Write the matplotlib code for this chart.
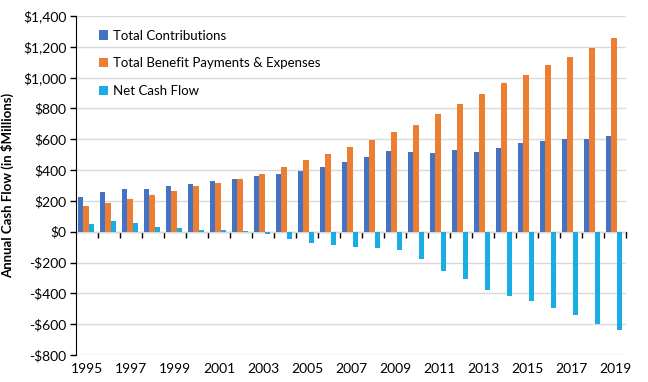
import matplotlib as mpl
from matplotlib import pyplot as plt
from matplotlib.ticker import FuncFormatter

mpl.use("agg")

mpl.rcParams["font.family"] = ["Lato", "DejaVu Sans"]
mpl.rcParams["font.size"] = 9.5

years = list(range(1995, 2020))
contributions = [225, 257, 277, 277, 296, 309, 329, 342, 361, 374, 393, 419, 450,
                 484, 523, 517, 510, 530, 517, 543, 573, 586, 599, 599, 620]
payments = [169, 188, 214, 240, 266, 296, 316, 342, 374, 419, 465, 504, 549,
            595, 644, 692, 767, 832, 891, 962, 1020, 1079, 1135, 1193, 1258]
net_flow = [52, 71, 58, 32, 26, 13, 9, 3, -15, -47, -75, -84, -100,
            -106, -119, -178, -258, -308, -377, -416, -449, -494, -540, -598, -641]

series = [
    ("Total Contributions", contributions, "#4472C4"),
    ("Total Benefit Payments & Expenses", payments, "#ED7D31"),
    ("Net Cash Flow", net_flow, "#1AADE4"),
]

fig = plt.figure(figsize=(6.48, 3.82), dpi=100)
ax = fig.add_axes([76 / 648, 27 / 382, 550 / 648, 339 / 382])

x = list(range(len(years)))
width = 0.25
for i, (label, values, color) in enumerate(series):
    ax.bar([xi + (i - 1) * width - 0.04 for xi in x], values, width=width,
           color=color, label=label, zorder=3)

ymin, ymax = -800, 1400
ax.set_ylim(ymin, ymax)
ax.set_xlim(-0.5, len(years) - 0.5)
ax.set_yticks(range(ymin, ymax + 1, 200))
ax.yaxis.set_major_formatter(
    FuncFormatter(lambda v, _: f"-${abs(v):,.0f}" if v < 0 else f"${v:,.0f}"))
ax.yaxis.grid(True, color="#D9D9D9", linewidth=1, zorder=0)
ax.tick_params(axis="y", direction="out", length=4, width=1, pad=3, labelsize=10)

ax.set_xticks(x[::2], [str(y) for y in years[::2]])
ax.tick_params(axis="x", length=0, pad=6, labelsize=10)

for side in ["top", "right", "bottom"]:
    ax.spines[side].set_visible(False)
ax.spines["left"].set_color("black")

# zero line with category-boundary ticks
zero_pos = (0 - ymin) / (ymax - ymin)
sec = ax.secondary_xaxis(zero_pos)
sec.set_xticks([xi + 0.5 for xi in x])
sec.tick_params(axis="x", direction="out", length=4, width=1, labelbottom=False)
sec.spines["bottom"].set_color("black")

ax.set_ylabel("Annual Cash Flow (in $Millions)", fontweight="bold", labelpad=6)

ax.legend(loc="upper left", bbox_to_anchor=(0.02, 0.995), frameon=False,
          handlelength=0.7, handleheight=0.7, handletextpad=0.4,
          labelspacing=1.2, fontsize=9.5)

fig.savefig("out.png", dpi=100)
plt.close(fig)
